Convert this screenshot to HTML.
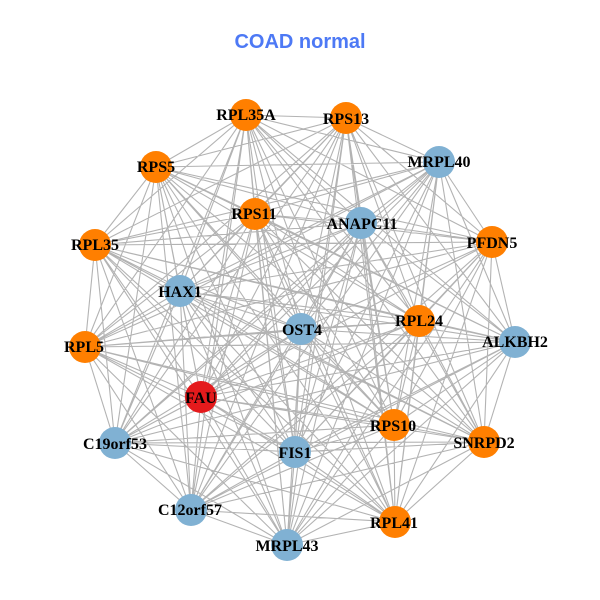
<!DOCTYPE html>
<html><head><meta charset="utf-8"><style>html,body{margin:0;padding:0;background:#fff}svg{display:block}</style></head><body>
<svg xmlns="http://www.w3.org/2000/svg" width="600" height="600" viewBox="0 0 600 600">
<rect width="600" height="600" fill="#fff"/>
<path fill="none" stroke="#b3b3b3" stroke-width="1.1" stroke-linejoin="bevel" d="
M246 115 346 118 246 115 439 162 246 115 156 167 246 115 255 214 246 115 361 223 246 115 492 242 246 115 95 245 246 115 180 291 246 115 301 329 246 115 419 321 246 115 515 342 246 115 85 347 246 115 201 397 246 115 394 425 246 115 484 442 246 115 115 443 246 115 295 452 246 115 191 510 246 115 395 522 246 115 287 545
M346 118 439 162 346 118 156 167 346 118 255 214 346 118 361 223 346 118 492 242 346 118 95 245 346 118 180 291 346 118 301 329 346 118 419 321 346 118 515 342 346 118 85 347 346 118 201 397 346 118 394 425 346 118 484 442 346 118 115 443 346 118 295 452 346 118 191 510 346 118 395 522 346 118 287 545
M439 162 156 167 439 162 255 214 439 162 361 223 439 162 492 242 439 162 95 245 439 162 180 291 439 162 301 329 439 162 419 321 439 162 515 342 439 162 85 347 439 162 201 397 439 162 394 425 439 162 484 442 439 162 115 443 439 162 295 452 439 162 191 510 439 162 395 522 439 162 287 545
M156 167 255 214 156 167 361 223 156 167 492 242 156 167 95 245 156 167 180 291 156 167 301 329 156 167 419 321 156 167 515 342 156 167 85 347 156 167 201 397 156 167 394 425 156 167 484 442 156 167 115 443 156 167 295 452 156 167 191 510 156 167 395 522 156 167 287 545
M255 214 361 223 255 214 492 242 255 214 95 245 255 214 180 291 255 214 301 329 255 214 419 321 255 214 515 342 255 214 85 347 255 214 201 397 255 214 394 425 255 214 484 442 255 214 115 443 255 214 295 452 255 214 191 510 255 214 395 522 255 214 287 545
M361 223 492 242 361 223 95 245 361 223 180 291 361 223 301 329 361 223 419 321 361 223 515 342 361 223 85 347 361 223 201 397 361 223 394 425 361 223 484 442 361 223 115 443 361 223 295 452 361 223 191 510 361 223 395 522 361 223 287 545
M492 242 95 245 492 242 180 291 492 242 301 329 492 242 419 321 492 242 515 342 492 242 85 347 492 242 201 397 492 242 394 425 492 242 484 442 492 242 115 443 492 242 295 452 492 242 191 510 492 242 395 522 492 242 287 545
M95 245 180 291 95 245 301 329 95 245 419 321 95 245 515 342 95 245 85 347 95 245 201 397 95 245 394 425 95 245 484 442 95 245 115 443 95 245 295 452 95 245 191 510 95 245 395 522 95 245 287 545
M180 291 301 329 180 291 419 321 180 291 515 342 180 291 85 347 180 291 201 397 180 291 394 425 180 291 484 442 180 291 115 443 180 291 295 452 180 291 191 510 180 291 395 522 180 291 287 545
M301 329 419 321 301 329 515 342 301 329 85 347 301 329 201 397 301 329 394 425 301 329 484 442 301 329 115 443 301 329 295 452 301 329 191 510 301 329 395 522 301 329 287 545
M419 321 515 342 419 321 85 347 419 321 201 397 419 321 394 425 419 321 484 442 419 321 115 443 419 321 295 452 419 321 191 510 419 321 395 522 419 321 287 545
M515 342 85 347 515 342 201 397 515 342 394 425 515 342 484 442 515 342 115 443 515 342 295 452 515 342 191 510 515 342 395 522 515 342 287 545
M85 347 201 397 85 347 394 425 85 347 484 442 85 347 115 443 85 347 295 452 85 347 191 510 85 347 395 522 85 347 287 545
M201 397 394 425 201 397 484 442 201 397 115 443 201 397 295 452 201 397 191 510 201 397 395 522 201 397 287 545
M394 425 484 442 394 425 115 443 394 425 295 452 394 425 191 510 394 425 395 522 394 425 287 545
M484 442 115 443 484 442 295 452 484 442 191 510 484 442 395 522 484 442 287 545
M115 443 295 452 115 443 191 510 115 443 395 522 115 443 287 545
M295 452 191 510 295 452 395 522 295 452 287 545
M191 510 395 522 191 510 287 545
M395 522 287 545"/>
<g fill="#FF7F00">
<circle cx="246" cy="115" r="16"/><circle cx="346" cy="118" r="16"/><circle cx="156" cy="167" r="16"/><circle cx="255" cy="214" r="16"/><circle cx="492" cy="242" r="16"/><circle cx="95" cy="245" r="16"/><circle cx="419" cy="321" r="16"/><circle cx="85" cy="347" r="16"/><circle cx="394" cy="425" r="16"/><circle cx="484" cy="442" r="16"/><circle cx="395" cy="522" r="16"/>
</g>
<g fill="#80B1D3">
<circle cx="439" cy="162" r="16"/><circle cx="361" cy="223" r="16"/><circle cx="180" cy="291" r="16"/><circle cx="301" cy="329" r="16"/><circle cx="515" cy="342" r="16"/><circle cx="115" cy="443" r="16"/><circle cx="295" cy="452" r="16"/><circle cx="191" cy="510" r="16"/><circle cx="287" cy="545" r="16"/>
</g>
<circle cx="201" cy="397" r="16" fill="#E41A1C"/>
<g font-family="'Liberation Serif',serif" font-weight="700" font-size="16" fill="#000" text-anchor="middle">
<text x="246" y="120">RPL35A</text>
<text x="346" y="124">RPS13</text>
<text x="439" y="167">MRPL40</text>
<text x="156" y="172">RPS5</text>
<text x="254" y="219">RPS11</text>
<text x="362" y="229">ANAPC11</text>
<text x="492" y="248">PFDN5</text>
<text x="95" y="250">RPL35</text>
<text x="180" y="297">HAX1</text>
<text x="302" y="335">OST4</text>
<text x="419" y="326">RPL24</text>
<text x="515" y="347">ALKBH2</text>
<text x="84" y="352">RPL5</text>
<text x="201" y="403">FAU</text>
<text x="393" y="431">RPS10</text>
<text x="484" y="448">SNRPD2</text>
<text x="115" y="449">C19orf53</text>
<text x="295" y="458">FIS1</text>
<text x="190" y="515">C12orf57</text>
<text x="394" y="528">RPL41</text>
<text x="287" y="551">MRPL43</text>
</g>
<text x="300" y="48" text-anchor="middle" font-family="'Liberation Sans',sans-serif" font-weight="700" font-size="20" fill="#4D79F5">COAD normal</text>
</svg>
</body></html>
